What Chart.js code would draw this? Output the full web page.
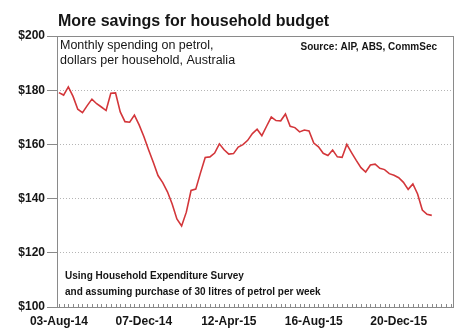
<!DOCTYPE html>
<html lang="en">
<head>
    <meta charset="UTF-8">
    <title>More savings for household budget</title>
    <script src="https://cdn.jsdelivr.net/npm/chart.js"></script>
    <style>
        html, body {
            margin: 0;
            padding: 0;
            background: #ffffff;
        }
        #wrap {
            width: 462px;
            height: 333px;
            position: relative;
        }
    </style>
</head>
<body>
    <div id="wrap"><canvas id="petrolChart" width="462" height="333"></canvas></div>
    <script>
        // Weekly petrol spending, dollars per household (week 0 = 03-Aug-14)
        const spending = [
            179.1, 178.2, 181.2, 177.7, 173.0, 171.7, 174.3, 176.7, 175.0, 173.8,
            172.5, 178.9, 179.0, 172.0, 168.4, 168.2, 170.8, 167.2, 162.9, 158.0,
            153.4, 148.5, 145.9, 142.5, 138.0, 132.5, 129.9, 135.0, 143.0, 143.5,
            149.5, 155.2, 155.4, 156.8, 160.2, 158.0, 156.4, 156.6, 159.0, 159.9,
            161.5, 164.0, 165.6, 163.2, 166.7, 170.1, 168.8, 168.7, 171.2, 166.7,
            166.2, 164.6, 165.3, 165.0, 160.5, 159.1, 156.7, 155.9, 157.9, 155.4,
            155.2, 160.0, 157.0, 154.1, 151.4, 149.8, 152.4, 152.7, 151.2, 150.7,
            149.2, 148.6, 147.7, 146.0, 143.4, 145.4, 141.7, 135.8, 134.2, 133.8
        ];
        const tickWeeks = [0, 18, 36, 54, 72];
        const tickLabels = ['03-Aug-14', '07-Dec-14', '12-Apr-15', '16-Aug-15', '20-Dec-15'];
        const yTicks = [100, 120, 140, 160, 180, 200];

        const FONT = '"Liberation Sans", Arial, sans-serif';
        const INK = '#151515';

        // frame, weekly minor ticks and the text blocks
        const decorations = {
            id: 'decorations',
            beforeDatasetsDraw(chart) {
                const { ctx, chartArea: a, scales } = chart;
                ctx.save();
                ctx.strokeStyle = '#8a8a8a';
                ctx.lineWidth = 1;
                ctx.beginPath();
                for (let w = 0; w <= 83; w++) {
                    const x = Math.round(scales.x.getPixelForValue(w)) + 0.5;
                    ctx.moveTo(x, a.bottom);
                    ctx.lineTo(x, a.bottom - 3);
                }
                ctx.stroke();
                ctx.strokeRect(Math.round(a.left) + 0.5, Math.round(a.top) + 0.5,
                    Math.round(a.right - a.left), Math.round(a.bottom - a.top));
                ctx.restore();
            },
            afterDraw(chart) {
                const { ctx } = chart;
                ctx.save();
                ctx.fillStyle = INK;
                ctx.textBaseline = 'alphabetic';
                ctx.textAlign = 'left';
                ctx.font = 'bold 16px ' + FONT;
                ctx.fillText('More savings for household budget', 58, 26);

                ctx.textBaseline = 'middle';
                ctx.font = '12.5px ' + FONT;
                ctx.fillText('Monthly spending on petrol,', 60, 46);
                ctx.fillText('dollars per household, Australia', 60, 61);

                ctx.font = 'bold 10px ' + FONT;
                ctx.textAlign = 'right';
                ctx.fillText('Source: AIP, ABS, CommSec', 437, 47);

                ctx.textAlign = 'left';
                ctx.fillText('Using Household Expenditure Survey', 65, 276);
                ctx.fillText('and assuming purchase of 30 litres of petrol per week', 65, 292);
                ctx.restore();
            }
        };

        const ctx = document.getElementById('petrolChart').getContext('2d');
        new Chart(ctx, {
            type: 'line',
            data: {
                datasets: [{
                    data: spending.map((v, i) => ({ x: i, y: v })),
                    borderColor: '#d3363a',
                    borderWidth: 1.6,
                    pointRadius: 0,
                    tension: 0
                }]
            },
            options: {
                responsive: false,
                animation: false,
                layout: { padding: { top: 36, right: 9, left: 0, bottom: 0 } },
                plugins: {
                    legend: { display: false },
                    tooltip: { enabled: false }
                },
                scales: {
                    x: {
                        type: 'linear',
                        min: -0.4,
                        max: 83.5,
                        afterBuildTicks: (scale) => {
                            scale.ticks = tickWeeks.map(v => ({ value: v }));
                        },
                        afterFit: (scale) => { scale.height = 26; },
                        grid: { display: false, drawTicks: false },
                        border: { display: false },
                        ticks: {
                            padding: 7,
                            maxRotation: 0,
                            color: INK,
                            font: { family: FONT, size: 12, weight: 'bold' },
                            callback: (v) => tickLabels[tickWeeks.indexOf(v)]
                        }
                    },
                    y: {
                        min: 100,
                        max: 200,
                        afterBuildTicks: (scale) => {
                            scale.ticks = yTicks.map(v => ({ value: v }));
                        },
                        afterFit: (scale) => { scale.width = 57; },
                        grid: {
                            color: '#b5b5b5',
                            tickColor: '#8a8a8a',
                            tickLength: 10
                        },
                        border: { display: false, dash: [1, 2] },
                        ticks: {
                            padding: 2,
                            color: INK,
                            font: { family: FONT, size: 12, weight: 'bold' },
                            callback: (v) => '$' + v
                        }
                    }
                }
            },
            plugins: [decorations]
        });
    </script>
</body>
</html>
